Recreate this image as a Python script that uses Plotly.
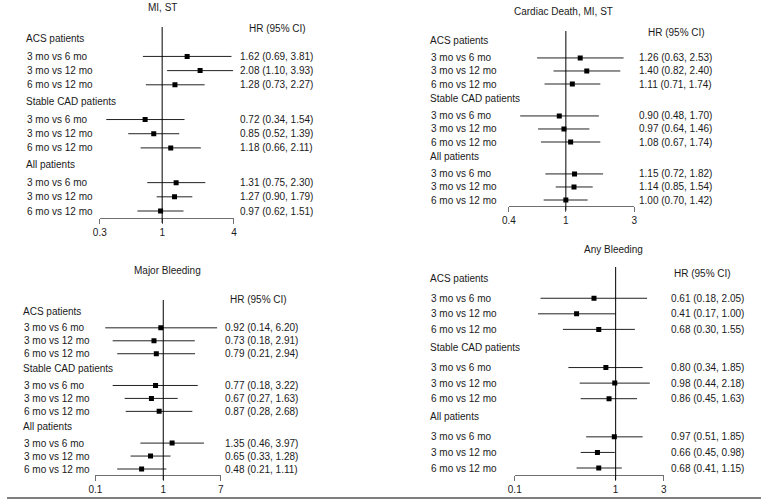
import math
import plotly.graph_objects as go

W, H = 764, 501
FONT = "Liberation Sans, Arial, sans-serif"
TXT = "#1a1a1a"

# ---------------- data ----------------
groups = ["ACS patients", "Stable CAD patients", "All patients"]
comparisons = ["3 mo vs 6 mo", "3 mo vs 12 mo", "6 mo vs 12 mo"]

titles = ["MI, ST", "Cardiac Death, MI, ST", "Major Bleeding", "Any Bleeding"]

# HR, lower, upper (order: ACS x3, Stable CAD x3, All x3)
mi_st_hr = [1.62, 2.08, 1.28, 0.72, 0.85, 1.18, 1.31, 1.27, 0.97]
mi_st_lo = [0.69, 1.10, 0.73, 0.34, 0.52, 0.66, 0.75, 0.90, 0.62]
mi_st_hi = [3.81, 3.93, 2.27, 1.54, 1.39, 2.11, 2.30, 1.79, 1.51]

cd_hr = [1.26, 1.40, 1.11, 0.90, 0.97, 1.08, 1.15, 1.14, 1.00]
cd_lo = [0.63, 0.82, 0.71, 0.48, 0.64, 0.67, 0.72, 0.85, 0.70]
cd_hi = [2.53, 2.40, 1.74, 1.70, 1.46, 1.74, 1.82, 1.54, 1.42]

mb_hr = [0.92, 0.73, 0.79, 0.77, 0.67, 0.87, 1.35, 0.65, 0.48]
mb_lo = [0.14, 0.18, 0.21, 0.18, 0.27, 0.28, 0.46, 0.33, 0.21]
mb_hi = [6.20, 2.91, 2.94, 3.22, 1.63, 2.68, 3.97, 1.28, 1.11]

ab_hr = [0.61, 0.41, 0.68, 0.80, 0.98, 0.86, 0.97, 0.66, 0.68]
ab_lo = [0.18, 0.17, 0.30, 0.34, 0.44, 0.45, 0.51, 0.45, 0.41]
ab_hi = [2.05, 1.00, 1.55, 1.85, 2.18, 1.63, 1.85, 0.98, 1.15]

tick_lo = [0.3, 0.4, 0.1, 0.1]
tick_hi = [4, 3, 7, 3]
tick_lo_text = ["0.3", "0.4", "0.1", "0.1"]
tick_hi_text = ["4", "3", "7", "3"]

series = [
    (mi_st_hr, mi_st_lo, mi_st_hi),
    (cd_hr, cd_lo, cd_hi),
    (mb_hr, mb_lo, mb_hi),
    (ab_hr, ab_lo, ab_hi),
]

# ---------------- layout (pixel positions) ----------------
panels = [
    dict(title_xy=(158, 7), hdr_xy=(274, 29), lab_x=18, val_r=312, ref_top=27,
         axis_y=218, x_px=(94, 230), head0=38, last=211),
    dict(title_xy=(564, 12), hdr_xy=(678, 32), lab_x=428, val_r=716, ref_top=31,
         axis_y=205.5, x_px=(508.5, 635.5), head0=41, last=200),
    dict(title_xy=(163, 270), hdr_xy=(255, 299), lab_x=15, val_r=297, ref_top=300,
         axis_y=475, x_px=(89.5, 216.5), head0=311, last=469),
    dict(title_xy=(615, 249), hdr_xy=(705, 273), lab_x=428, val_r=749, ref_top=267,
         axis_y=475, x_px=(514.5, 665.5), head0=278, last=468),
]

# slot positions: header, then three rows (header->row gap larger)
GROUP_STEP = 4.45
ROW_OFF = 1.3
head_slots = [g * GROUP_STEP for g in range(len(groups))]
row_slots = [g * GROUP_STEP + ROW_OFF + j for g in range(len(groups)) for j in range(len(comparisons))]
LAST_SLOT = row_slots[-1]


def px(x):
    return x / W


def py(y):
    return 1 - y / H


fig = go.Figure()
annotations = []
shapes = []

for i, (p, (hr, lo, hi)) in enumerate(zip(panels, series)):
    n = i + 1
    xa = "x" if n == 1 else f"x{n}"
    ya = "y" if n == 1 else f"y{n}"
    unit = (p["last"] - p["head0"]) / LAST_SLOT
    top_px = p["ref_top"] - 4
    s_axis = (p["axis_y"] - p["head0"]) / unit
    s_top = (top_px - p["head0"]) / unit

    # CI lines
    lx, ly = [], []
    for s, a, b in zip(row_slots, lo, hi):
        lx += [a, b, None]
        ly += [s, s, None]
    fig.add_trace(go.Scatter(x=lx, y=ly, mode="lines", xaxis=xa, yaxis=ya,
                             line=dict(color="#222222", width=1), hoverinfo="skip",
                             showlegend=False))
    fig.add_trace(go.Scatter(x=hr, y=row_slots, mode="markers", xaxis=xa, yaxis=ya,
                             marker=dict(symbol="square", size=5, color="#000000"),
                             showlegend=False))

    fig.layout[f"xaxis{'' if n == 1 else n}"] = dict(
        type="log", domain=[px(p["x_px"][0]), px(p["x_px"][1])],
        range=[math.log10(tick_lo[i]), math.log10(tick_hi[i])],
        tickvals=[tick_lo[i], 1, tick_hi[i]],
        ticktext=[tick_lo_text[i], "1", tick_hi_text[i]],
        showline=True, linecolor="#707070", linewidth=1,
        ticks="outside", ticklen=5, tickcolor="#707070", tickwidth=1,
        showgrid=False, zeroline=False, anchor=ya, fixedrange=True,
        tickfont=dict(family=FONT, size=10, color=TXT),
    )
    fig.layout[f"yaxis{'' if n == 1 else n}"] = dict(
        domain=[py(p["axis_y"]), py(top_px)], range=[s_axis, s_top],
        visible=False, anchor=xa, fixedrange=True,
    )

    # reference line at HR = 1
    shapes.append(dict(type="line", xref=xa, yref="paper", x0=1, x1=1,
                       y0=py(p["axis_y"] + 5), y1=py(p["ref_top"]),
                       line=dict(color="#000000", width=1)))

    # title and header
    annotations.append(dict(text=titles[i], xref="paper", yref="paper",
                            x=px(p["title_xy"][0]), y=py(p["title_xy"][1]),
                            xanchor="center", yanchor="middle", showarrow=False,
                            font=dict(family=FONT, size=10, color=TXT)))
    annotations.append(dict(text="HR (95% CI)", xref="paper", yref="paper",
                            x=px(p["hdr_xy"][0]), y=py(p["hdr_xy"][1]),
                            xanchor="center", yanchor="middle", showarrow=False,
                            font=dict(family=FONT, size=10, color=TXT)))
    # group headers
    for g, s in zip(groups, head_slots):
        annotations.append(dict(text=g, xref="paper", yref=ya, x=px(p["lab_x"] - 1), y=s,
                                xanchor="left", yanchor="middle", showarrow=False,
                                font=dict(family=FONT, size=10, color=TXT)))
    # row labels and values
    for k, s in enumerate(row_slots):
        annotations.append(dict(text=comparisons[k % 3], xref="paper", yref=ya,
                                x=px(p["lab_x"]), y=s, xanchor="left", yanchor="middle",
                                showarrow=False, font=dict(family=FONT, size=10, color=TXT)))
        annotations.append(dict(text=f"{hr[k]:.2f} ({lo[k]:.2f}, {hi[k]:.2f})",
                                xref="paper", yref=ya, x=px(p["val_r"]), y=s,
                                xanchor="right", yanchor="middle", showarrow=False,
                                font=dict(family=FONT, size=10, color=TXT)))

# bottom border line
shapes.append(dict(type="line", xref="paper", yref="paper", x0=0, x1=1,
                   y0=py(498), y1=py(498), line=dict(color="#555555", width=1.5)))

fig.update_layout(width=W, height=H, margin=dict(l=0, r=0, t=0, b=0),
                  paper_bgcolor="white", plot_bgcolor="rgba(0,0,0,0)",
                  annotations=annotations, shapes=shapes, showlegend=False,
                  hovermode=False,
                  font=dict(family=FONT, size=10, color=TXT))
fig.write_html("out.html", config={"displayModeBar": False, "staticPlot": True},
               post_script="document.body.style.margin='0';document.body.style.overflow='hidden';")
